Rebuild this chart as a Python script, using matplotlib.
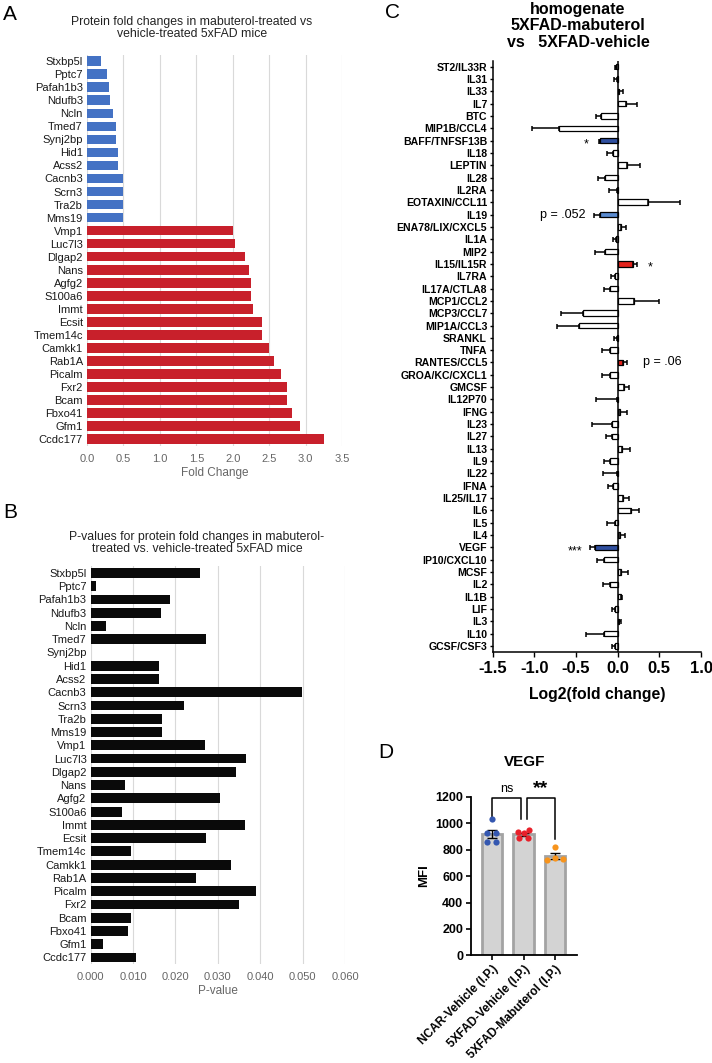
import matplotlib
matplotlib.use('Agg')
import matplotlib.pyplot as plt
import numpy as np

plt.rcParams['font.family'] = ['Liberation Sans', 'DejaVu Sans']

W, H = 712, 1063

# --- panel A / B data (top to bottom) ---
proteins = ['Stxbp5l', 'Pptc7', 'Pafah1b3', 'Ndufb3', 'Ncln', 'Tmed7', 'Synj2bp',
            'Hid1', 'Acss2', 'Cacnb3', 'Scrn3', 'Tra2b', 'Mms19', 'Vmp1', 'Luc7l3',
            'Dlgap2', 'Nans', 'Agfg2', 'S100a6', 'Immt', 'Ecsit', 'Tmem14c', 'Camkk1',
            'Rab1A', 'Picalm', 'Fxr2', 'Bcam', 'Fbxo41', 'Gfm1', 'Ccdc177']
fold_change = [0.19, 0.275, 0.30, 0.32, 0.36, 0.40, 0.40, 0.42, 0.42, 0.49, 0.49,
               0.49, 0.49, 2.0, 2.03, 2.165, 2.22, 2.25, 2.25, 2.275, 2.40, 2.40,
               2.50, 2.57, 2.665, 2.75, 2.75, 2.81, 2.92, 3.25]
p_values = [0.0257, 0.0012, 0.0186, 0.0166, 0.0036, 0.0272, 0.0, 0.0161, 0.0161,
            0.0499, 0.0221, 0.0169, 0.0169, 0.0269, 0.0366, 0.0343, 0.0080, 0.0305,
            0.0075, 0.0365, 0.0272, 0.0094, 0.0331, 0.0249, 0.0390, 0.0351, 0.0094,
            0.0089, 0.0029, 0.0106]

# --- panel C data (top to bottom) ---
cytokines = ['ST2/IL33R', 'IL31', 'IL33', 'IL7', 'BTC', 'MIP1B/CCL4', 'BAFF/TNFSF13B',
             'IL18', 'LEPTIN', 'IL28', 'IL2RA', 'EOTAXIN/CCL11', 'IL19', 'ENA78/LIX/CXCL5',
             'IL1A', 'MIP2', 'IL15/IL15R', 'IL7RA', 'IL17A/CTLA8', 'MCP1/CCL2', 'MCP3/CCL7',
             'MIP1A/CCL3', 'SRANKL', 'TNFA', 'RANTES/CCL5', 'GROA/KC/CXCL1', 'GMCSF',
             'IL12P70', 'IFNG', 'IL23', 'IL27', 'IL13', 'IL9', 'IL22', 'IFNA', 'IL25/IL17',
             'IL6', 'IL5', 'IL4', 'VEGF', 'IP10/CXCL10', 'MCSF', 'IL2', 'IL1B', 'LIF', 'IL3',
             'IL10', 'GCSF/CSF3']
log2fc = [-0.015, -0.01, 0.015, 0.096, -0.204, -0.704, -0.212, -0.052, 0.116, -0.152,
          -0.01, 0.364, -0.212, 0.044, -0.02, -0.152, 0.188, -0.028, -0.092, 0.2, -0.42,
          -0.468, -0.01, -0.092, 0.068, -0.092, 0.08, -0.005, 0.028, -0.064, -0.064, 0.052,
          -0.092, -0.005, -0.052, 0.068, 0.164, -0.036, 0.032, -0.276, -0.164, 0.036,
          -0.092, 0.036, -0.03, 0.01, -0.164, -0.03]
log2fc_err = [0.02, 0.04, 0.045, 0.13, 0.056, 0.324, 0.016, 0.08, 0.152, 0.08, 0.1,
              0.384, 0.072, 0.052, 0.04, 0.12, 0.048, 0.048, 0.072, 0.3, 0.26, 0.256,
              0.04, 0.092, 0.04, 0.092, 0.06, 0.25, 0.08, 0.24, 0.08, 0.096, 0.068, 0.175,
              0.068, 0.072, 0.096, 0.092, 0.056, 0.06, 0.088, 0.092, 0.08, 0.02, 0.034,
              0.034, 0.216, 0.042]
highlight = {'BAFF/TNFSF13B': '#2f4f9f', 'IL19': '#5a8bcf', 'IL15/IL15R': '#e3231c',
             'RANTES/CCL5': '#e3231c', 'VEGF': '#2f4f9f'}
c_notes = [('BAFF/TNFSF13B', '*'), ('IL19', 'p = .052'), ('IL15/IL15R', '*'),
           ('RANTES/CCL5', 'p = .06'), ('VEGF', '***')]

# --- panel D data ---
groups = ['NCAR-Vehicle (I.P.)', '5XFAD-Vehicle (I.P.)', '5XFAD-Mabuterol (I.P.)']
mfi = [[1033, 924, 924, 859, 859],
       [934, 947, 891, 891, 924],
       [818, 720, 735, 732]]
dot_colors = ['#3457b0', '#e8202a', '#f7941d']
jitter = [[0, -0.45, 0.45, -0.45, 0.45],
          [-0.5, 0.5, -0.45, 0.45, 0.0],
          [0, -0.8, 0, 0.8]]


def box(l, t, r, b):
    return [l / W, 1 - b / H, (r - l) / W, (b - t) / H]


fig = plt.figure(figsize=(W / 100, H / 100), dpi=100)

# ---------- A ----------
axA = fig.add_axes(box(87, 54.7, 342, 445.6))
yA = np.arange(len(proteins))
colA = ['#4472c4' if v < 1 else '#c8202b' for v in fold_change]
axA.barh(yA, fold_change, height=0.74, color=colA, zorder=2)
axA.set_xlim(0, 3.5)
axA.set_ylim(len(proteins) - 0.5, -0.5)
axA.set_xticks(np.arange(0, 3.51, 0.5))
axA.set_xticklabels([f'{v:.1f}' for v in np.arange(0, 3.51, 0.5)])
axA.set_yticks(yA)
axA.set_yticklabels(proteins)
axA.grid(axis='x', color='#d9d9d9', lw=0.8, zorder=0)
for s in axA.spines.values():
    s.set_visible(False)
axA.tick_params(length=0, labelsize=8, pad=3)
axA.tick_params(axis='x', colors='#666666', pad=6)
axA.tick_params(axis='y', colors='#1a1a1a')
axA.set_xlabel('Fold Change', fontsize=8.5, color='#666666', labelpad=2)
fig.text(192 / W, 1 - 28 / H, 'Protein fold changes in mabuterol-treated vs\nvehicle-treated 5xFAD mice',
         ha='center', va='center', fontsize=8.8, color='#222222', linespacing=1.05)
fig.text(3 / W, 1 - 15 / H, 'A', fontsize=15, va='center')

# ---------- B ----------
axB = fig.add_axes(box(90.7, 566.3, 345, 964.1))
yB = np.arange(len(proteins))
axB.barh(yB, p_values, height=0.74, color='#0a0a0a', zorder=2)
axB.set_xlim(0, 0.06)
axB.set_ylim(len(proteins) - 0.5, -0.5)
axB.set_xticks(np.arange(0, 0.0601, 0.01))
axB.set_xticklabels([f'{v:.3f}' for v in np.arange(0, 0.0601, 0.01)])
axB.set_yticks(yB)
axB.set_yticklabels(proteins)
axB.grid(axis='x', color='#d9d9d9', lw=0.8, zorder=0)
for s in axB.spines.values():
    s.set_visible(False)
axB.tick_params(length=0, labelsize=8, pad=3)
axB.tick_params(axis='x', colors='#666666', pad=6)
axB.tick_params(axis='y', colors='#1a1a1a')
axB.set_xlabel('P-value', fontsize=8.5, color='#666666', labelpad=2)
fig.text(197 / W, 1 - 543 / H, 'P-values for protein fold changes in mabuterol-\ntreated vs. vehicle-treated 5xFAD mice',
         ha='center', va='center', fontsize=8.8, color='#222222', linespacing=1.05)
fig.text(3 / W, 1 - 513 / H, 'B', fontsize=15, va='center')

# ---------- C ----------
axC = fig.add_axes(box(492.7, 61, 701, 652))
yC = np.arange(len(cytokines))
v = np.array(log2fc)
e = np.array(log2fc_err)
fc = [highlight.get(c, 'white') for c in cytokines]
axC.barh(yC, v, height=0.45, color=fc, edgecolor='black', lw=0.9, zorder=2)
lo = np.where(v < 0, e, 0)
hi = np.where(v >= 0, e, 0)
axC.errorbar(v, yC, xerr=[lo, hi], fmt='none', ecolor='black', elinewidth=1.1,
             capsize=1.8, capthick=1.1, zorder=3)
axC.axvline(0, color='black', lw=1.1, zorder=4)
axC.set_xlim(-1.5, 1.0)
axC.set_ylim(47.49, -0.46)
axC.set_yticks(yC)
axC.set_yticklabels(cytokines, fontsize=7.6, fontweight='bold')
axC.set_xticks([-1.5, -1.0, -0.5, 0.0, 0.5, 1.0])
axC.set_xticklabels(['-1.5', '-1.0', '-0.5', '0.0', '0.5', '1.0'], fontsize=12, fontweight='bold')
axC.spines['top'].set_visible(False)
axC.spines['right'].set_visible(False)
axC.spines['left'].set_linewidth(1.1)
axC.spines['bottom'].set_linewidth(1.1)
axC.tick_params(axis='y', length=2.5, width=1, pad=1.5)
axC.tick_params(axis='x', length=3.5, width=1, pad=3)
axC.set_xlabel('Log2(fold change)', fontsize=11.3, fontweight='bold', labelpad=8)
for name, txt in c_notes:
    i = cytokines.index(name)
    val = log2fc[i]
    if txt == '*' and val < 0:
        axC.text(-0.345, i + 0.3, txt, ha='right', va='center', fontsize=9)
    elif txt == '*':
        axC.text(0.36, i + 0.3, txt, ha='left', va='center', fontsize=9)
    elif txt == '***':
        axC.text(-0.42, i + 0.3, txt, ha='right', va='center', fontsize=9)
    elif val < 0:
        axC.text(-0.39, i, txt, ha='right', va='center', fontsize=9)
    else:
        axC.text(0.30, i, txt, ha='left', va='center', fontsize=9)
fig.text(578 / W, 1 - 26 / H, 'homogenate\n5XFAD-mabuterol\nvs   5XFAD-vehicle', ha='center', va='center',
         fontsize=11.5, fontweight='bold', linespacing=1.12)
fig.text(385 / W, 1 - 12 / H, 'C', fontsize=15, va='center')

# ---------- D ----------
axD = fig.add_axes(box(471, 796.9, 576.7, 955.3))
xD = np.arange(len(groups))
means = [np.mean(g) for g in mfi]
sems = [np.std(g, ddof=1) / np.sqrt(len(g)) for g in mfi]
axD.bar(xD, means, width=0.64, color='#d3d3d3', edgecolor='#a3a3a3', lw=2, zorder=2)
axD.errorbar(xD, means, yerr=sems, fmt='none', ecolor='black', elinewidth=1,
             capsize=3.5, capthick=1, zorder=3)
for k, g in enumerate(mfi):
    axD.scatter(xD[k] + np.array(jitter[k]) * 0.32, g, s=20, color=dot_colors[k],
                zorder=4, linewidths=0)
axD.set_xlim(-0.66, 2.68)
axD.set_ylim(0, 1200)
axD.set_yticks(range(0, 1201, 200))
axD.set_yticklabels([str(t) for t in range(0, 1201, 200)], fontsize=9, fontweight='bold')
axD.set_xticks(xD)
axD.set_xticklabels(groups, rotation=45, ha='right', rotation_mode='anchor',
                    fontsize=8.6, fontweight='bold')
axD.spines['top'].set_visible(False)
axD.spines['right'].set_visible(False)
axD.spines['left'].set_linewidth(1.3)
axD.spines['bottom'].set_linewidth(1.3)
axD.tick_params(length=3.5, width=1.2, pad=2)
axD.set_ylabel('MFI', fontsize=9.5, fontweight='bold', labelpad=4)
# significance brackets
axD.plot([0, 0, 0.92, 0.92], [1035, 1195, 1195, 1035], color='black', lw=1.1, clip_on=False)
axD.plot([1.1, 1.1, 2, 2], [1035, 1195, 1195, 880], color='black', lw=1.1, clip_on=False)
axD.text(0.46, 1215, 'ns', ha='center', va='bottom', fontsize=9)
axD.text(1.55, 1200, '**', ha='center', va='bottom', fontsize=14, fontweight='bold')
fig.text(525 / W, 1 - 762 / H, 'VEGF', ha='center', va='center', fontsize=11, fontweight='bold')
fig.text(378 / W, 1 - 752 / H, 'D', fontsize=15, va='center')

fig.savefig('out.png', dpi=100)
